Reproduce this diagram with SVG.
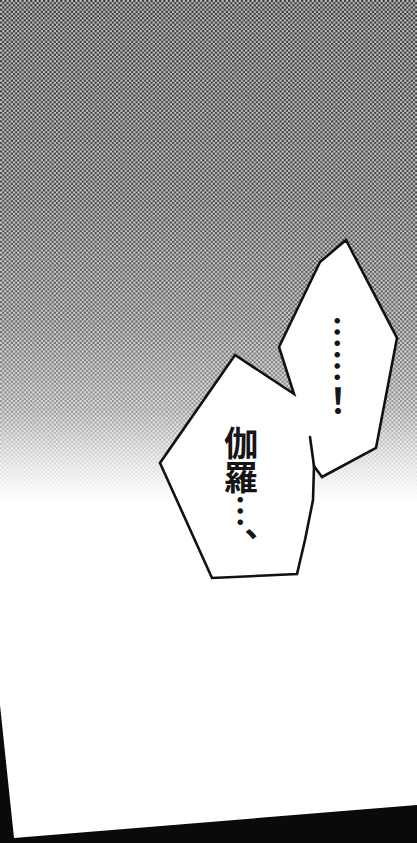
<svg xmlns="http://www.w3.org/2000/svg" width="417" height="843" viewBox="0 0 417 843">
  <style>
    .bubble { fill: #ffffff; stroke: #111111; stroke-width: 2.6; stroke-linejoin: miter; stroke-linecap: round; }
    .spur { fill: none; stroke: #111111; stroke-width: 2.6; stroke-linecap: round; }
    .vt { font-family: "Noto Sans CJK JP", "Noto Sans CJK SC", sans-serif; font-weight: bold; font-size: 34px; fill: #151515; writing-mode: vertical-rl; }
  </style>
  <defs>
    <pattern id="halftone" x="0" y="0" width="4.3" height="4.3" patternUnits="userSpaceOnUse">
      <rect x="0" y="0" width="4.3" height="4.3" fill="#c4c4c4"/>
      <rect x="0" y="0" width="2.15" height="2.15" fill="#333333"/>
      <rect x="2.15" y="2.15" width="2.15" height="2.15" fill="#333333"/>
    </pattern>
    <linearGradient id="fade" x1="0" y1="0" x2="0" y2="500" gradientUnits="userSpaceOnUse">
      <stop offset="0" stop-color="#ffffff" stop-opacity="0"/>
      <stop offset="0.4" stop-color="#ffffff" stop-opacity="0.08"/>
      <stop offset="0.65" stop-color="#ffffff" stop-opacity="0.24"/>
      <stop offset="0.82" stop-color="#ffffff" stop-opacity="0.48"/>
      <stop offset="0.93" stop-color="#ffffff" stop-opacity="0.82"/>
      <stop offset="1" stop-color="#ffffff" stop-opacity="1"/>
    </linearGradient>
  </defs>

  <g id="background">
    <rect x="0" y="0" width="417" height="843" fill="#ffffff"/>
    <rect x="0" y="0" width="417" height="500" fill="url(#halftone)"/>
    <rect x="0" y="0" width="417" height="501" fill="url(#fade)"/>
    <polygon points="0,705 14,838 417,805 417,843 0,843" fill="#0a0a0a"/>
  </g>

  <g id="bubbles">
    <path class="bubble" d="M346,240 L397,338 L376,448 L322,477 L314,466 L313,500 L305,540 L297,574 L212,578 L160,463 L235,355 L294,394 L279,347 L320,262 Z"/>
    <line class="spur" x1="310" y1="437" x2="314" y2="466"/>
  </g>

  <g id="text-right">
    <text class="vt" x="338" y="315">……！</text>
  </g>
  <g id="text-left">
    <text class="vt" x="241" y="426">伽羅…、</text>
  </g>
</svg>
